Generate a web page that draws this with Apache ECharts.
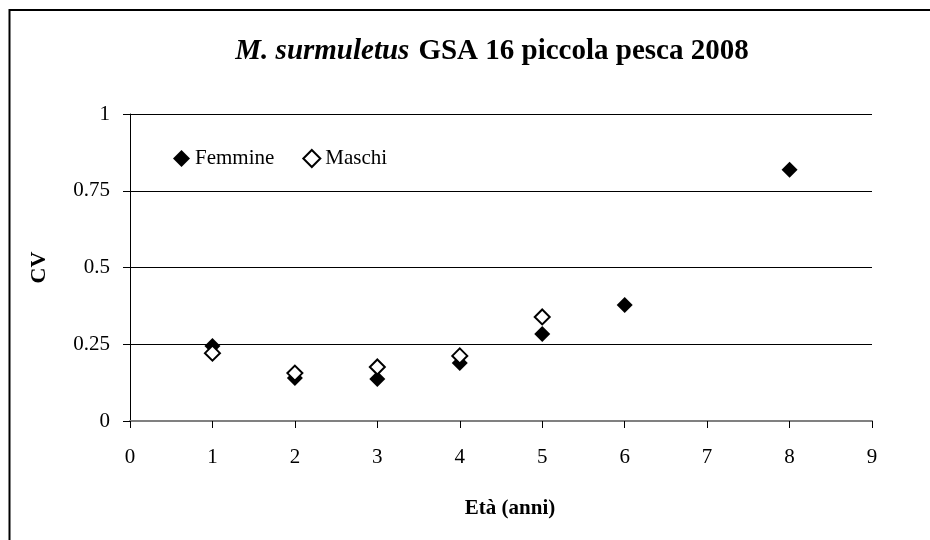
<!DOCTYPE html>
<html>
<head>
<meta charset="utf-8">
<script src="https://cdn.jsdelivr.net/npm/echarts@6/dist/echarts.min.js"></script>
<style>
  html, body { margin: 0; padding: 0; background: #fff; }
  #chart { width: 930px; height: 540px; }
</style>
</head>
<body>
<div id="chart"></div>
<script>
// age classes (anni) and CV per sex
var femmineEta = [1, 2, 3, 4, 5, 6, 8];
var femmineCV = [0.244, 0.14, 0.137, 0.189, 0.283, 0.378, 0.818];
var maschiEta = [1, 2, 3, 4, 5];
var maschiCV = [0.221, 0.156, 0.176, 0.212, 0.339];
var yTicks = [0, 0.25, 0.5, 0.75, 1];

var font = '"Liberation Serif", "Times New Roman", serif';

function pairs(xs, ys) {
    return xs.map(function (x, i) { return [x, ys[i]]; });
}

var chart = echarts.init(document.getElementById('chart'));

chart.setOption({
    animation: false,
    backgroundColor: '#fff',
    textStyle: { fontFamily: font, color: '#000' },
    graphic: [{
        type: 'rect',
        shape: { x: 9.5, y: 10, width: 1000, height: 1000 },
        style: { fill: 'none', stroke: '#000', lineWidth: 2 },
        silent: true
    }],
    title: {
        left: 487,
        top: 32,
        textAlign: 'center',
        text: '{i|M. surmuletus}  {b|GSA 16 piccola pesca 2008}',
        textStyle: {
            rich: {
                i: { fontFamily: font, fontSize: 29, fontStyle: 'italic', fontWeight: 'bold', color: '#000' },
                b: { fontFamily: font, fontSize: 29, fontWeight: 'bold', color: '#000' }
            }
        }
    },
    legend: {
        left: 168,
        top: 143,
        itemWidth: 17,
        itemHeight: 17,
        itemGap: 28,
        textStyle: { fontFamily: font, fontSize: 21, color: '#000' },
        data: [
            { name: 'Femmine', icon: 'diamond', itemStyle: { color: '#000', opacity: 1 } },
            { name: 'Maschi', icon: 'diamond', itemStyle: { color: '#fff', borderColor: '#000', borderWidth: 2, opacity: 1 } }
        ]
    },
    grid: { left: 130, right: 58, top: 114, bottom: 119 },
    xAxis: {
        type: 'value',
        min: 0,
        max: 9,
        interval: 1,
        name: 'Età (anni)',
        nameLocation: 'middle',
        nameGap: 77,
        nameTextStyle: { fontFamily: font, fontSize: 21, fontWeight: 'bold', color: '#000', padding: [0, 0, 0, 18] },
        axisLine: { lineStyle: { color: '#808080', width: 2 } },
        axisTick: { length: 7, lineStyle: { color: '#000' } },
        axisLabel: { fontFamily: font, fontSize: 21, color: '#000', margin: 26 },
        splitLine: { show: false }
    },
    yAxis: {
        type: 'value',
        min: 0,
        max: 1,
        interval: 0.25,
        name: 'CV',
        nameLocation: 'middle',
        nameGap: 80,
        nameTextStyle: { fontFamily: font, fontSize: 22, fontWeight: 'bold', color: '#000' },
        axisLine: { show: true, lineStyle: { color: '#000', width: 1 } },
        axisTick: { show: true, length: 7, lineStyle: { color: '#000' } },
        axisLabel: {
            fontFamily: font, fontSize: 21, color: '#000', margin: 20,
            formatter: function (v) { return yTicks.indexOf(v) >= 0 ? String(v) : ''; }
        },
        splitLine: { lineStyle: { color: '#000', width: 1 } }
    },
    series: [
        {
            name: 'Femmine',
            type: 'scatter',
            symbol: 'diamond',
            symbolSize: 16,
            itemStyle: { color: '#000', opacity: 1 },
            data: pairs(femmineEta, femmineCV)
        },
        {
            name: 'Maschi',
            type: 'scatter',
            symbol: 'diamond',
            symbolSize: 15,
            itemStyle: { color: '#fff', borderColor: '#000', borderWidth: 2, opacity: 1 },
            data: pairs(maschiEta, maschiCV)
        }
    ]
});
</script>
</body>
</html>
